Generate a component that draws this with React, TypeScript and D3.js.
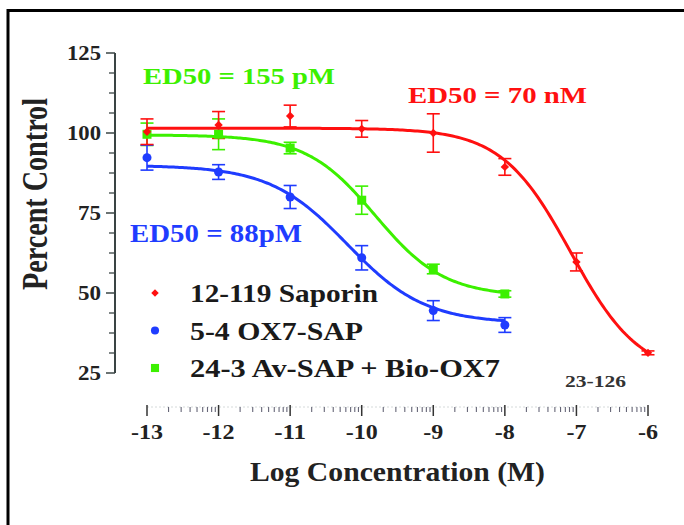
import React from 'react';
import * as d3 from 'd3';

// ---- data ----
const xTicks = [-13, -12, -11, -10, -9, -8, -7, -6];
const yTicks = [25, 50, 75, 100, 125];

const seriesNames = ['12-119 Saporin', '5-4 OX7-SAP', '24-3 Av-SAP + Bio-OX7'];
const seriesColors = ['#ff1010', '#1f3cff', '#3cf000'];
const seriesShapes = ['diamond', 'circle', 'square'];

const saporinConc = [-13, -12, -11, -10, -9, -8, -7, -6];
const saporinMean = [100.4, 102.5, 105.3, 101.3, 100.0, 89.4, 59.7, 31.3];
const saporinErr = [4.0, 4.2, 3.4, 2.6, 6.0, 2.6, 2.8, 0.6];

const ox7Conc = [-13, -12, -11, -10, -9, -8];
const ox7Mean = [92.3, 87.8, 80.0, 61.0, 44.5, 40.0];
const ox7Err = [3.9, 2.3, 3.6, 3.8, 3.1, 2.3];

const avConc = [-13, -12, -11, -10, -9, -8];
const avMean = [99.6, 99.6, 95.3, 79.0, 57.5, 49.7];
const avErr = [3.5, 4.8, 1.8, 4.4, 1.5, 1.0];

// fitted sigmoid parameters (top, bottom, logEC50, hill, x-range)
const fitTop = [101.5, 89.9, 99.4];
const fitBottom = [24, 40.5, 49];
const fitLogEC50 = [-7.08, -10.2, -9.81];
const fitHill = [0.9, 0.8, 0.9];
const fitStart = [-13, -13, -13];
const fitEnd = [-6, -8, -8];

const ed50Labels = ['ED50 = 70 nM', 'ED50 = 88pM', 'ED50 = 155 pM'];

const FONT = 'Liberation Serif';

export default function App() {
  const W = 684;
  const H = 525;
  const x = d3.scaleLinear().domain([-13, -6]).range([147, 648]);
  const y = d3.scaleLinear().domain([25, 125]).range([373, 53]);

  const series = [
    { conc: saporinConc, mean: saporinMean, err: saporinErr },
    { conc: ox7Conc, mean: ox7Mean, err: ox7Err },
    { conc: avConc, mean: avMean, err: avErr },
  ];

  const line = d3
    .line<[number, number]>()
    .x((d) => x(d[0]))
    .y((d) => y(d[1]))
    .curve(d3.curveLinear);

  const fitPath = (i: number) => {
    const pts: [number, number][] = [];
    const n = 200;
    for (let k = 0; k <= n; k++) {
      const lx = fitStart[i] + ((fitEnd[i] - fitStart[i]) * k) / n;
      const v =
        fitBottom[i] +
        (fitTop[i] - fitBottom[i]) /
          (1 + Math.pow(10, (lx - fitLogEC50[i]) * fitHill[i]));
      pts.push([lx, v]);
    }
    return line(pts) || '';
  };

  const marker = (shape: string, cx: number, cy: number, color: string, key: string, s = 1) => {
    if (shape === 'diamond') {
      const r = 4.2 * s;
      return (
        <path
          key={key}
          d={`M${cx},${cy - r}L${cx + r},${cy}L${cx},${cy + r}L${cx - r},${cy}Z`}
          fill={color}
        />
      );
    }
    if (shape === 'circle') {
      return <circle key={key} cx={cx} cy={cy} r={4.5 * s} fill={color} />;
    }
    const h = 4.5 * s;
    return <rect key={key} x={cx - h} y={cy - h} width={2 * h} height={2 * h} fill={color} />;
  };

  const minorX: number[] = [];
  for (let d = -13; d < -6; d++) {
    for (let k = 2; k <= 9; k++) minorX.push(d + Math.log10(k));
  }
  const minorY: number[] = [];
  for (let v = 25; v < 125; v += 6.25) {
    if ((v - 25) % 25 !== 0) minorY.push(v);
  }

  const axisColor = '#3a4444';
  const drawOrder = [2, 1, 0];

  return (
    <svg
      width={W}
      height={H}
      style={{ position: 'absolute', left: 0, top: 0, background: '#fff' }}
    >
      <rect x={0} y={0} width={W} height={H} fill="#fff" />
      <path d={`M8,${H}L8,10.5L${W},10.5`} fill="none" stroke="#000" strokeWidth={3} />

      {/* y axis */}
      <line x1={115} x2={115} y1={y(125)} y2={y(25)} stroke={axisColor} strokeWidth={2} />
      {yTicks.map((t) => (
        <g key={'yt' + t}>
          <line x1={106} x2={115} y1={y(t)} y2={y(t)} stroke={axisColor} strokeWidth={1.5} />
          <text
            x={101}
            y={y(t) + 7}
            fontSize={21}
            fontFamily={FONT}
            fontWeight={700}
            textAnchor="end"
            fill="#222"
            textLength={t >= 100 ? 34 : 23}
            lengthAdjust="spacingAndGlyphs"
          >
            {t}
          </text>
        </g>
      ))}
      {minorY.map((t) => (
        <line key={'ym' + t} x1={109} x2={115} y1={y(t)} y2={y(t)} stroke={axisColor} strokeWidth={1.3} />
      ))}

      {/* x axis */}
      <line x1={x(-13)} x2={x(-6)} y1={407} y2={407} stroke="#d5dada" strokeWidth={1} strokeDasharray="2,2" />
      {minorX.map((t, i) => (
        <line key={'xm' + i} x1={x(t)} x2={x(t)} y1={407} y2={412} stroke="#667" strokeWidth={1.1} />
      ))}
      {xTicks.map((t) => (
        <g key={'xt' + t}>
          <line x1={x(t)} x2={x(t)} y1={405} y2={416} stroke="#333" strokeWidth={1.5} />
          <text
            x={x(t)}
            y={439}
            fontSize={22}
            fontFamily={FONT}
            fontWeight={700}
            textAnchor="middle"
            fill="#222"
            textLength={t <= -10 ? 32 : 20}
            lengthAdjust="spacingAndGlyphs"
          >
            {String(t)}
          </text>
        </g>
      ))}

      {/* axis titles */}
      <text
        transform="translate(47,194) scale(1.3,1) rotate(-90)"
        fontSize={28}
        fontFamily={FONT}
        fontWeight={700}
        textAnchor="middle"
        fill="#222"
        textLength={192}
        lengthAdjust="spacingAndGlyphs"
      >
        Percent Control
      </text>
      <text
        x={250}
        y={481}
        fontSize={27}
        fontFamily={FONT}
        fontWeight={700}
        fill="#222"
        textLength={295}
        lengthAdjust="spacingAndGlyphs"
      >
        Log Concentration (M)
      </text>

      {/* error bars */}
      {drawOrder.map((si) => {
        const s = series[si];
        return (
          <g key={'eb' + si} stroke={seriesColors[si]} strokeWidth={1.6}>
            {s.conc.map((c, j) => {
              const cx = x(c);
              const y1 = y(s.mean[j] + s.err[j]);
              const y2 = y(s.mean[j] - s.err[j]);
              return (
                <g key={j}>
                  <line x1={cx} x2={cx} y1={y1} y2={y2} />
                  <line x1={cx - 6.5} x2={cx + 6.5} y1={y1} y2={y1} />
                  <line x1={cx - 6.5} x2={cx + 6.5} y1={y2} y2={y2} />
                </g>
              );
            })}
          </g>
        );
      })}

      {/* fitted curves */}
      {drawOrder.map((si) => (
        <path key={'fit' + si} d={fitPath(si)} fill="none" stroke={seriesColors[si]} strokeWidth={3} />
      ))}

      {/* markers */}
      {drawOrder.map((si) => {
        const s = series[si];
        return (
          <g key={'mk' + si}>
            {s.conc.map((c, j) => marker(seriesShapes[si], x(c), y(s.mean[j]), seriesColors[si], 'm' + si + '_' + j))}
          </g>
        );
      })}

      {/* ED50 labels */}
      <text x={408} y={103} fontSize={24} fontFamily={FONT} fontWeight={700} fill={seriesColors[0]} textLength={179} lengthAdjust="spacingAndGlyphs">
        {ed50Labels[0]}
      </text>
      <text x={130} y={242} fontSize={25} fontFamily={FONT} fontWeight={700} fill={seriesColors[1]} textLength={172} lengthAdjust="spacingAndGlyphs">
        {ed50Labels[1]}
      </text>
      <text x={143} y={84} fontSize={24} fontFamily={FONT} fontWeight={700} fill={seriesColors[2]} textLength={192} lengthAdjust="spacingAndGlyphs">
        {ed50Labels[2]}
      </text>

      {/* legend */}
      {seriesNames.map((nm, i) => {
        const cy = 293 + i * 37.5;
        const widths = [188, 173, 310];
        return (
          <g key={'lg' + i}>
            {marker(seriesShapes[i], 155, cy, seriesColors[i], 'lgm' + i, 0.9)}
            <text x={190} y={cy + 9} fontSize={26} fontFamily={FONT} fontWeight={700} fill="#1a1a1a" textLength={widths[i]} lengthAdjust="spacingAndGlyphs">
              {nm}
            </text>
          </g>
        );
      })}

      <text x={565} y={387} fontSize={17} fontFamily={FONT} fontWeight={700} fill="#333" textLength={61} lengthAdjust="spacingAndGlyphs">
        23-126
      </text>
    </svg>
  );
}
